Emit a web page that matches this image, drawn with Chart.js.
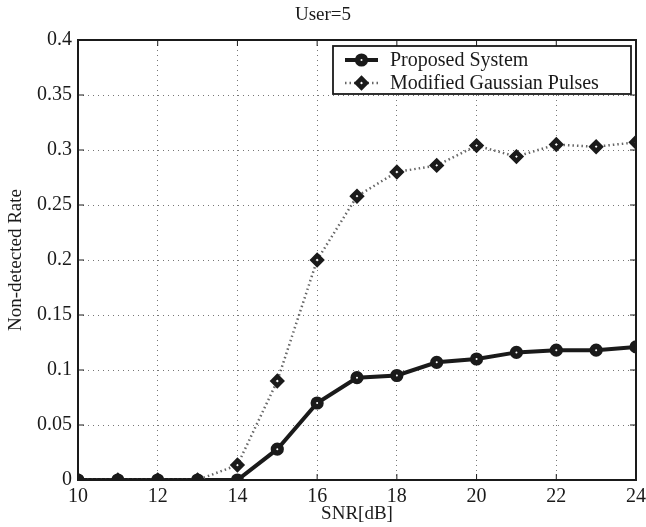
<!DOCTYPE html>
<html>
<head>
<meta charset="UTF-8">
<title>User=5</title>
<script src="https://cdn.jsdelivr.net/npm/chart.js"></script>
<style>
    body { margin: 0; background: #fff; }
    #wrap { width: 646px; height: 527px; }
</style>
</head>
<body>
<div id="wrap"><canvas id="c" width="646" height="527"></canvas></div>
<script>
// data
const snr = [10, 11, 12, 13, 14, 15, 16, 17, 18, 19, 20, 21, 22, 23, 24];
const proposed = [0, 0, 0, 0, 0, 0.028, 0.070, 0.093, 0.095, 0.107, 0.110, 0.116, 0.118, 0.118, 0.121];
const gaussian = [0, 0, 0, 0, 0.0136, 0.090, 0.200, 0.258, 0.280, 0.286, 0.304, 0.294, 0.305, 0.303, 0.307];
const xTicks = [10, 12, 14, 16, 18, 20, 22, 24];
const yTicks = [0, 0.05, 0.1, 0.15, 0.2, 0.25, 0.3, 0.35, 0.4];
const seriesNames = ['Proposed System', 'Modified Gaussian Pulses'];

const serif = '"Liberation Serif", "Times New Roman", serif';
const ink = '#1a1a1a';

function pts(arr) { return snr.map((x, i) => ({ x: x, y: arr[i] })); }

// box around the axes + inward ticks + boxed legend
const frame = {
    id: 'frame',
    afterDraw(chart) {
        const ctx = chart.ctx, a = chart.chartArea;
        const xs = chart.scales.x, ys = chart.scales.y;
        ctx.save();
        ctx.strokeStyle = ink;
        ctx.lineWidth = 1;
        ctx.beginPath();
        xTicks.forEach(v => {
            const p = xs.getPixelForValue(v);
            ctx.moveTo(p, a.bottom); ctx.lineTo(p, a.bottom - 6);
            ctx.moveTo(p, a.top); ctx.lineTo(p, a.top + 6);
        });
        yTicks.forEach(v => {
            const p = ys.getPixelForValue(v);
            ctx.moveTo(a.left, p); ctx.lineTo(a.left + 6, p);
            ctx.moveTo(a.right, p); ctx.lineTo(a.right - 6, p);
        });
        ctx.stroke();
        ctx.lineWidth = 2;
        ctx.strokeRect(a.left, a.top, a.right - a.left, a.bottom - a.top);

        // legend
        const lx = a.right - 303, ly = a.top + 6, lw = 298, lh = 48;
        ctx.fillStyle = '#fff';
        ctx.fillRect(lx, ly, lw, lh);
        ctx.strokeStyle = ink;
        ctx.lineWidth = 1.8;
        ctx.strokeRect(lx, ly, lw, lh);
        ctx.font = '20px ' + serif;
        ctx.textBaseline = 'middle';
        chart.data.datasets.forEach((ds, i) => {
            const yy = ly + 14 + i * 23;
            ctx.save();
            ctx.strokeStyle = ds.borderColor;
            ctx.lineWidth = ds.borderWidth;
            ctx.setLineDash(ds.borderDash || []);
            ctx.beginPath();
            ctx.moveTo(lx + 12, yy); ctx.lineTo(lx + 45, yy);
            ctx.stroke();
            ctx.restore();
            ctx.save();
            ctx.fillStyle = ds.pointBackgroundColor;
            ctx.strokeStyle = ds.pointBorderColor;
            ctx.lineWidth = ds.pointBorderWidth;
            Chart.helpers.drawPoint(ctx, { pointStyle: ds.pointStyle, radius: ds.pointRadius, rotation: 0, borderWidth: ds.pointBorderWidth }, lx + 28.5, yy);
            ctx.restore();
            ctx.fillStyle = ink;
            ctx.fillText(ds.label, lx + 57, yy + 1);
        });
        ctx.restore();
    }
};

new Chart(document.getElementById('c'), {
    type: 'line',
    data: {
        datasets: [{
            label: seriesNames[0],
            data: pts(proposed),
            order: 1,
            borderColor: ink,
            borderWidth: 4,
            pointStyle: 'circle',
            pointRadius: 3.8,
            pointBackgroundColor: '#fff',
            pointBorderColor: ink,
            pointBorderWidth: 5.6,
            tension: 0
        }, {
            label: seriesNames[1],
            data: pts(gaussian),
            order: 0,
            borderColor: '#666',
            borderWidth: 2.5,
            borderDash: [1.5, 3],
            pointStyle: 'rectRot',
            pointRadius: 4.5,
            pointBackgroundColor: '#fff',
            pointBorderColor: ink,
            pointBorderWidth: 4.5,
            tension: 0
        }]
    },
    options: {
        responsive: false,
        animation: false,
        layout: { padding: { left: 0, right: 0, top: 0, bottom: 0 } },
        plugins: {
            legend: { display: false },
            tooltip: { enabled: false },
            title: {
                display: true,
                text: 'User=5',
                color: ink,
                font: { family: serif, size: 19, weight: 'normal', lineHeight: 1.2 },
                padding: { top: 4, bottom: 13.2 }
            }
        },
        scales: {
            x: {
                type: 'linear',
                min: 10, max: 24,
                afterFit(s) { s.height = 47; s.paddingRight = 10; s.paddingLeft = 0; },
                afterBuildTicks(s) { s.ticks = xTicks.map(v => ({ value: v })); },
                grid: { color: '#777', lineWidth: 1, drawTicks: false },
                border: { display: false, dash: [1, 4] },
                ticks: { color: ink, padding: 5, maxRotation: 0, font: { family: serif, size: 20 } },
                title: { display: true, text: 'SNR[dB]', color: ink, padding: { top: 0, bottom: 2 }, font: { family: serif, size: 19 } }
            },
            y: {
                min: 0, max: 0.4,
                afterFit(s) { s.width = 78; },
                afterBuildTicks(s) { s.ticks = yTicks.map(v => ({ value: v })); },
                grid: { color: '#777', lineWidth: 1, drawTicks: false },
                border: { display: false, dash: [1, 4] },
                ticks: { color: ink, padding: 6, font: { family: serif, size: 20 }, callback: v => String(v) },
                title: { display: true, text: 'Non-detected Rate', color: ink, padding: { top: 5, bottom: 0 }, font: { family: serif, size: 19 } }
            }
        }
    },
    plugins: [frame]
});
</script>
</body>
</html>
